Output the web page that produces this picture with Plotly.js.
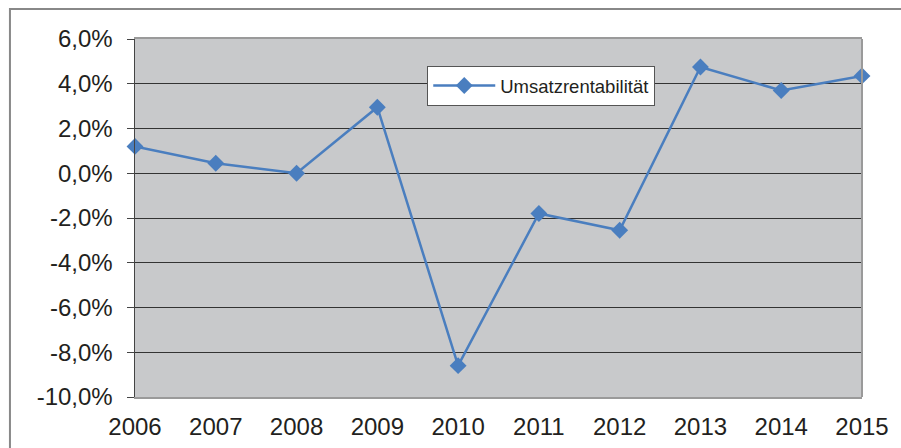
<!DOCTYPE html>
<html><head><meta charset="utf-8">
<script src="https://cdn.plot.ly/plotly-3.0.1.min.js"></script>
<style>html,body{margin:0;padding:0;background:#fff;}#chart{width:901px;height:448px;}</style>
</head><body><div id="chart"></div>
<script>
const years = [2006, 2007, 2008, 2009, 2010, 2011, 2012, 2013, 2014, 2015];
const umsatzrentabilitaet = [1.2, 0.45, 0.0, 2.95, -8.6, -1.8, -2.55, 4.75, 3.7, 4.35];
const yTicks = [-10, -8, -6, -4, -2, 0, 2, 4, 6];
const yTickText = ['-10,0%', '-8,0%', '-6,0%', '-4,0%', '-2,0%', '0,0%', '2,0%', '4,0%', '6,0%'];
const seriesName = 'Umsatzrentabilität';

const trace = {
  x: years, y: umsatzrentabilitaet, type: 'scatter', mode: 'lines+markers',
  name: seriesName,
  line: {color: '#4a7ebf', width: 2.5},
  marker: {symbol: 'diamond', size: 13, color: '#4a7ebf'},
  cliponaxis: false
};
const layout = {
  width: 901, height: 448,
  margin: {l: 135, r: 39, t: 39, b: 51},
  paper_bgcolor: '#ffffff', plot_bgcolor: '#c8c9cb',
  font: {family: '"Liberation Sans", Arial, sans-serif', color: '#231f20'},
  showlegend: true,
  legend: {x: 0.402, y: 0.9246, xanchor: 'left', yanchor: 'top',
    bgcolor: '#ffffff', bordercolor: '#555555', borderwidth: 1,
    itemwidth: 62,
    font: {size: 18.5, color: '#231f20'}},
  xaxis: {range: [2006, 2015], tickvals: years, ticktext: years.map(String),
    showgrid: false, zeroline: false, ticks: '', showline: true, linecolor: '#9a9a9a', linewidth: 2, mirror: true,
    tickfont: {size: 24}, ticklabelstandoff: 7},
  yaxis: {range: [-10, 6], tickvals: yTicks, ticktext: yTickText,
    showgrid: true, gridcolor: '#333333', gridwidth: 1, zeroline: false,
    ticks: 'outside', ticklen: 7, tickcolor: '#444444', showline: true, linecolor: '#444444', linewidth: 1.5,
    tickfont: {size: 24}, ticklabelstandoff: 9},
  shapes: [
    {type: 'line', xref: 'paper', yref: 'paper', x0: 1, x1: 1, y0: 0, y1: 1, line: {color: '#9a9a9a', width: 2}},
    {type: 'rect', xref: 'paper', yref: 'paper', x0: -0.172, x1: 1.06, y0: -0.2, y1: 1.0838, line: {color: '#888888', width: 2}, layer: 'below'}
  ]
};
Plotly.newPlot('chart', [trace], layout, {displayModeBar: false, staticPlot: true});
</script></body></html>
